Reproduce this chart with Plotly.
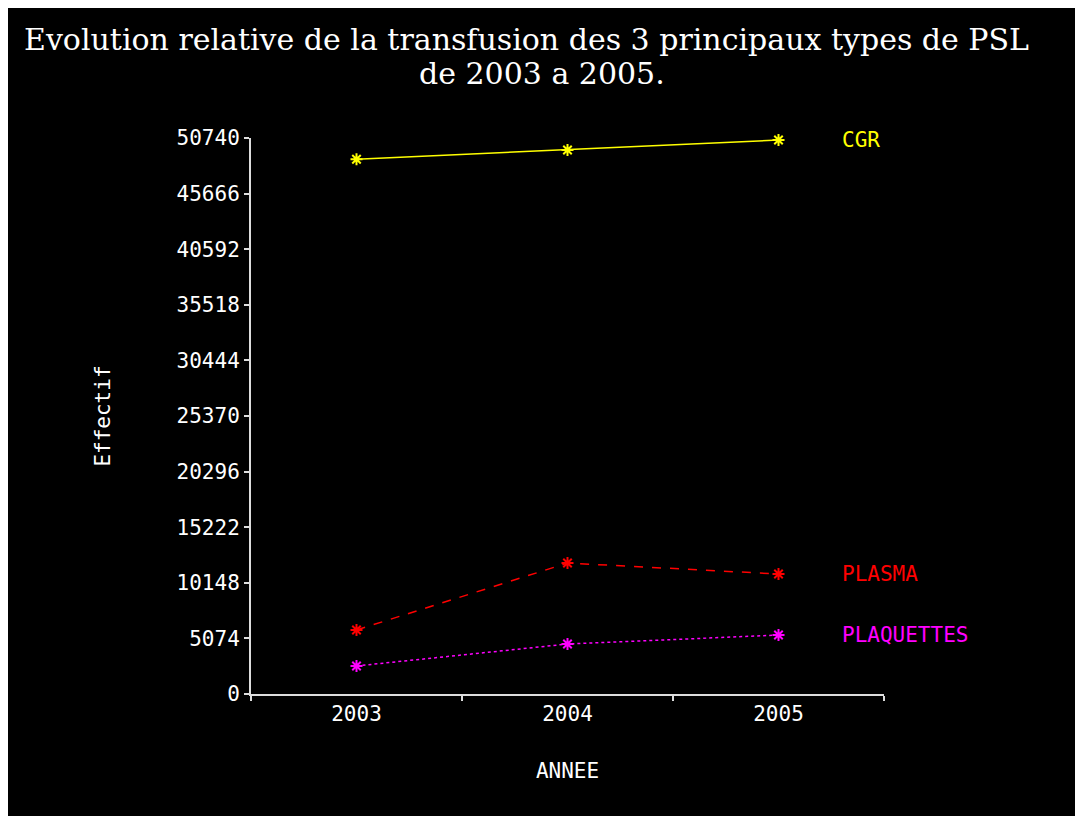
import plotly.graph_objects as go

years = ["2003", "2004", "2005"]
series_names = ["CGR", "PLASMA", "PLAQUETTES"]
cgr = [48800, 49650, 50560]
plasma = [5840, 11950, 10950]
plaquettes = [2560, 4560, 5380]
ytick_vals = [0, 5074, 10148, 15222, 20296, 25370, 30444, 35518, 40592, 45666, 50740]
title_lines = ["Evolution relative de la transfusion des 3 principaux types de PSL",
               "de 2003 a 2005."]

colors = ["#FFFF00", "#FF0000", "#FF00FF"]
dashes = ["solid", "dash", "dot"]
values = [cgr, plasma, plaquettes]

W, H = 1083, 816
ML, MR, MT, MB = 243, 207, 130, 130
pw, ph = W - ML - MR, H - MT - MB

mono = "DejaVu Sans Mono"
fs = 21

fig = go.Figure()
for name, vals, c, d in zip(series_names, values, colors, dashes):
    fig.add_trace(go.Scatter(
        x=years, y=vals, mode="lines+markers", name=name,
        line=dict(color=c, width=1.5, dash=d),
        marker=dict(symbol="asterisk-open", size=10, color=c, line=dict(color=c, width=2)),
        showlegend=False, cliponaxis=False,
    ))
    fig.add_annotation(x=2.29, y=vals[-1], xref="x", yref="y", text=name,
                       showarrow=False, xanchor="left", yanchor="middle",
                       font=dict(family=mono, size=fs, color=c))

# title, two centred lines
for txt, cx, cy in zip(title_lines, [518, 534], [32, 65]):
    fig.add_annotation(x=(cx - ML) / pw, y=1 + (MT - cy) / ph, xref="paper", yref="paper",
                       text=txt, showarrow=False, xanchor="center", yanchor="middle",
                       font=dict(family="DejaVu Serif", size=30, color="white"))

fig.update_layout(
    width=W, height=H,
    margin=dict(l=ML, r=MR, t=MT, b=MB),
    paper_bgcolor="black", plot_bgcolor="black",
    xaxis=dict(type="category", range=[-0.5, 2.5], tickson="boundaries",
               ticks="outside", ticklen=5, tickcolor="#DDDDDD", tickwidth=2,
               showline=True, linecolor="#DDDDDD", linewidth=2,
               showgrid=False, zeroline=False,
               tickfont=dict(family=mono, size=fs, color="white"),
               title=dict(text="ANNEE", font=dict(family=mono, size=fs, color="white"), standoff=38)),
    yaxis=dict(range=[0, 50740], tickvals=ytick_vals,
               ticktext=[str(v) for v in ytick_vals],
               ticks="outside", ticklen=5, tickcolor="#DDDDDD", tickwidth=2,
               showline=True, linecolor="#DDDDDD", linewidth=2,
               showgrid=False, zeroline=False,
               tickfont=dict(family=mono, size=fs, color="white"),
               title=dict(text="Effectif", font=dict(family=mono, size=fs, color="white"), standoff=60)),
)

fig.write_html("out.html")
